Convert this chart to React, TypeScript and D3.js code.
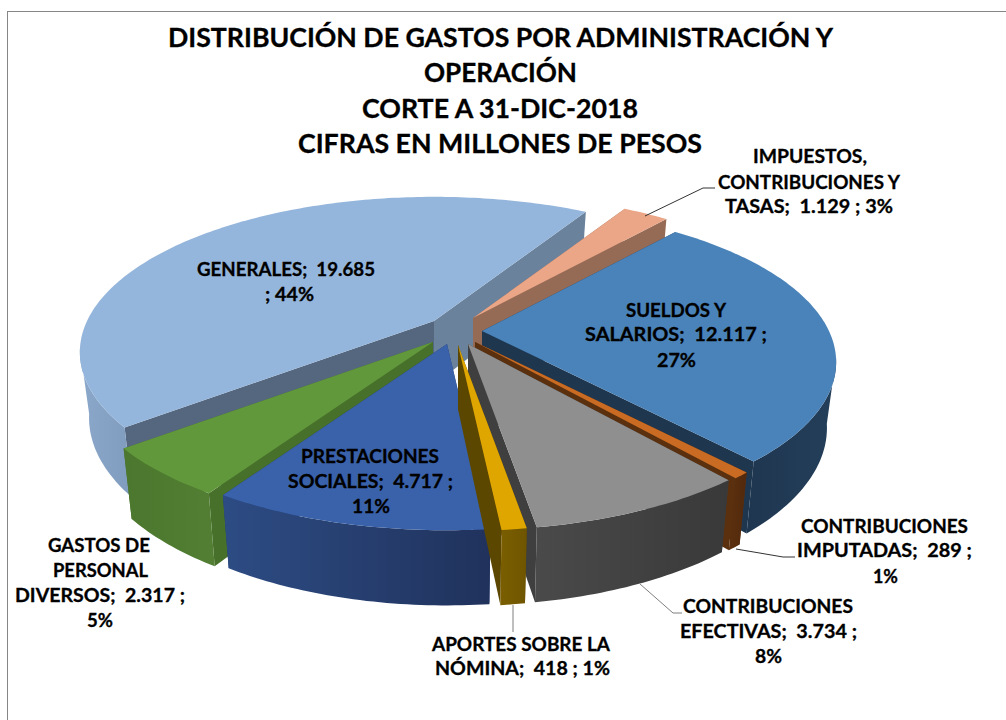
import React from "react";
import * as d3 from "d3";

const categories = ["SUELDOS Y SALARIOS", "CONTRIBUCIONES IMPUTADAS", "CONTRIBUCIONES EFECTIVAS", "APORTES SOBRE LA NÓMINA", "PRESTACIONES SOCIALES", "GASTOS DE PERSONAL DIVERSOS", "GENERALES", "IMPUESTOS, CONTRIBUCIONES Y TASAS"];
const values = [12117, 289, 3734, 418, 4717, 2317, 19685, 1129];
const explodeX = [21, 14, 7, -3, -14, -28, -27, 12];
const explodeY = [-1, 10, 12, 13, 12, 10, -11, -14];
const topColors = ["#4a83b9", "#c96b22", "#8f8f8f", "#dfa600", "#3a62aa", "#62983c", "#95b6dc", "#eba687"];
const startWall = ["#1f364f", "#5a300f", "#3f3f3f", "#5c4700", "#24396b", "#47702b", "#55677f", "#966b56"];
const endWall = ["#1f364f", "#5a300f", "#3f3f3f", "#5c4700", "#24396b", "#47702b", "#6b829d", "#966b56"];
const outerA = ["#1f3650", "#5a300f", "#4a4a4a", "#7a5e00", "#2d4c84", "#4b772e", "#8ba8ca", "#966b56"];
const outerB = ["#243f5a", "#52290c", "#393939", "#6f5500", "#20325c", "#527f33", "#7f9bbd", "#966b56"];
const drawOrder = [6, 7, 0, 1, 5, 4, 2, 3];

const titleLines = ["DISTRIBUCIÓN DE GASTOS POR ADMINISTRACIÓN Y", "OPERACIÓN", "CORTE A 31-DIC-2018", "CIFRAS EN MILLONES DE PESOS"];
const titleY = [47, 82, 118, 153];
const titleSpan: [number, number][] = [[168, 833], [424, 577], [362, 638], [298, 702]];

const labelBlocks = [
  { y: [276, 301], span: [[197, 375], [265, 314]], lines: ["GENERALES;  19.685", "; 44%"] },
  { y: [317, 341, 367], span: [[626, 726], [585, 767], [657, 696]], lines: ["SUELDOS Y", "SALARIOS;  12.117 ;", "27%"] },
  { y: [463, 488, 513], span: [[301, 439], [288, 453], [352, 390]], lines: ["PRESTACIONES", "SOCIALES;  4.717 ;", "11%"] },
  { y: [552, 577, 602, 627], span: [[48, 150], [53, 148], [15, 185], [87, 113]], lines: ["GASTOS DE", "PERSONAL", "DIVERSOS;  2.317 ;", "5%"] },
  { y: [651, 675], span: [[432, 610], [435, 610]], lines: ["APORTES SOBRE LA", "NÓMINA;  418 ; 1%"] },
  { y: [613, 638, 663], span: [[683, 853], [680, 857], [755, 782]], lines: ["CONTRIBUCIONES", "EFECTIVAS;  3.734 ;", "8%"] },
  { y: [533, 557, 583], span: [[801, 968], [797, 972], [873, 898]], lines: ["CONTRIBUCIONES", "IMPUTADAS;  289 ;", "1%"] },
  { y: [163, 189, 213], span: [[753, 867], [718, 900], [725, 893]], lines: ["IMPUESTOS,", "CONTRIBUCIONES Y", "TASAS;  1.129 ; 3%"] },
];
const leaders: [number, number][][] = [
  [[645, 216], [703, 188], [715, 188]],
  [[736, 549], [783, 557], [795, 557]],
  [[640, 584], [673, 613], [682, 613]],
  [[513, 605], [513, 632]],
];
const leaderColors = ["#333", "#333", "#7f7f7f", "#7f7f7f"];

const W = 1006, H = 720;
const CX = 461, CY = 332;
const RX = 347, RY = 149, K = 0.2, DEPTH = 64, SHRINK = 0.974;
const START = (40 * Math.PI) / 180;

const pieGen = d3.pie<number>().sort(null).startAngle(START).endAngle(START + 2 * Math.PI);
const line = d3.line<[number, number]>();

function rimTop(a: number, ax: number, ay: number): [number, number] {
  const s = Math.sin(a), c = Math.cos(a), den = 1 + K * c;
  return [ax + (RX * s) / den, ay - (RY * c) / den];
}
function rimBottom(a: number, ax: number, ay: number): [number, number] {
  const s = Math.sin(a), c = Math.cos(a), den = 1 + K * c;
  return [ax + (SHRINK * RX * s) / den, ay - (SHRINK * RY * c) / den + DEPTH / den];
}

export default function App() {
  const arcs = pieGen(values);
  return (
    <svg width={W} height={H} viewBox={`0 0 ${W} ${H}`} style={{ position: "absolute", left: 0, top: 0, background: "#fff" }}>
      <defs>
        {values.map((_, i) => (
          <linearGradient key={i} id={`wall${i}`} x1="0" x2="1" y1="0" y2="0">
            <stop offset="0" stopColor={outerA[i]} />
            <stop offset="1" stopColor={outerB[i]} />
          </linearGradient>
        ))}
      </defs>
      <rect x={7.5} y={11.5} width={1010} height={720} fill="none" stroke="#868686" strokeWidth={1} />
      {drawOrder.map((i) => {
        const d = arcs[i];
        const ax = CX + explodeX[i], ay = CY + explodeY[i];
        const n = Math.max(4, Math.ceil((d.endAngle - d.startAngle) * 60));
        const angles = d3.range(n + 1).map((k) => d.startAngle + ((d.endAngle - d.startAngle) * k) / n);
        const top = angles.map((a) => rimTop(a, ax, ay));
        const nearAngles = angles.filter((a) => Math.cos(a) < -K + 0.03);
        const nearTop = nearAngles.map((a) => rimTop(a, ax, ay));
        const nearBot = nearAngles.map((a) => rimBottom(a, ax, ay));
        const apex: [number, number] = [ax, ay];
        const apexB: [number, number] = [ax, ay + DEPTH];
        const a0 = angles[0], a1 = angles[n];
        const wall1 = line([apex, rimTop(a0, ax, ay), rimBottom(a0, ax, ay), apexB]) + "Z";
        const wall2 = line([apex, rimTop(a1, ax, ay), rimBottom(a1, ax, ay), apexB]) + "Z";
        const outer = nearAngles.length > 1 ? line([...nearTop, ...nearBot.slice().reverse()]) + "Z" : "";
        const face = line([apex, ...top]) + "Z";
        return (
          <g key={categories[i]}>
            <path d={wall1} fill={startWall[i]} />
            <path d={wall2} fill={endWall[i]} />
            {outer && <path d={outer} fill={`url(#wall${i})`} />}
            <path d={face} fill={topColors[i]} />
          </g>
        );
      })}
      {leaders.map((l, i) => (
        <path key={i} d={line(l) || ""} fill="none" stroke={leaderColors[i]} strokeWidth={1} />
      ))}
      <g fontFamily="Lato, sans-serif" fontWeight={700} textAnchor="middle" fill="#000" stroke="#000" strokeWidth={0.3}>
        {titleLines.map((t, i) => (
          <text key={t} x={(titleSpan[i][0] + titleSpan[i][1]) / 2} y={titleY[i]} fontSize={26.5}
            textLength={titleSpan[i][1] - titleSpan[i][0]} lengthAdjust="spacingAndGlyphs">{t}</text>
        ))}
        {labelBlocks.map((b) =>
          b.lines.map((t, i) => (
            <text key={t} x={(b.span[i][0] + b.span[i][1]) / 2} y={b.y[i]} fontSize={18} style={{ whiteSpace: "pre" }}
              textLength={b.span[i][1] - b.span[i][0]} lengthAdjust="spacingAndGlyphs">{t}</text>
          ))
        )}
      </g>
    </svg>
  );
}
